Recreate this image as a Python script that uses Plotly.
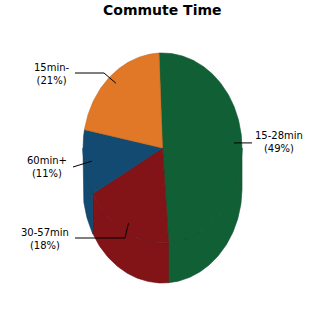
import math
import plotly.graph_objects as go

title = "Commute Time"
categories = ["15-28min", "30-57min", "60min+", "15min-"]
values = [49, 18, 11, 21]
colors = ["#116035", "#821418", "#124a72", "#e07828"]
edge_colors = ["#0d4f2b", "#6a1013", "#0e3c5e", "#c26822"]

# geometry (pixel space)
cx, cy, rx, ry, depth = 162.5, 148.0, 79.5, 95.0, 40.0
start_deg = -2.5
label_xy = [(279, 142), (45, 239), (47, 167), (52, 74)]
elbow_xy = [(252, None), (125, 238), (73, 167), (104, 73)]
line_end_x = [252, 75, 73, 75]


def pt(t, r=1.0, dy=0.0):
    a = math.radians(t)
    return cx + rx * r * math.sin(a), cy - ry * r * math.cos(a) + dy


total = float(sum(values))
angles = []
a = start_deg
for v in values:
    b = a + v / total * 360.0
    angles.append((a, b))
    a = b

fig = go.Figure()

# side walls (front half only)
for (a, b), col, ec in zip(angles, colors, edge_colors):
    for off in (0, 360, -360):
        lo, hi = max(a + off, 90), min(b + off, 270)
        if hi <= lo:
            continue
        n = max(int((hi - lo) / 1.0), 2)
        ts = [lo + (hi - lo) * i / n for i in range(n + 1)]
        top = [pt(t) for t in ts]
        bot = [pt(t, dy=depth) for t in reversed(ts)]
        poly = top + bot + [top[0]]
        fig.add_trace(go.Scatter(x=[p[0] for p in poly], y=[p[1] for p in poly],
                                 mode="lines", fill="toself", fillcolor=col,
                                 line=dict(color=ec, width=0.6), hoverinfo="skip",
                                 showlegend=False))

# top faces
for (a, b), col, ec in zip(angles, colors, edge_colors):
    n = max(int((b - a) / 1.0), 2)
    ts = [a + (b - a) * i / n for i in range(n + 1)]
    poly = [(cx, cy)] + [pt(t) for t in ts] + [(cx, cy)]
    fig.add_trace(go.Scatter(x=[p[0] for p in poly], y=[p[1] for p in poly],
                             mode="lines", fill="toself", fillcolor=col,
                             line=dict(color=ec, width=0.6), hoverinfo="skip",
                             showlegend=False))

# leader lines and labels
for i, ((a, b), cat, v) in enumerate(zip(angles, categories, values)):
    mid = (a + b) / 2
    ax_, ay_ = pt(mid, r=0.9)
    ex, ey = elbow_xy[i]
    if ey is None:
        ey = ay_
    xs = [ax_, ex, line_end_x[i]]
    ys = [ay_, ey, ey]
    fig.add_trace(go.Scatter(x=xs, y=ys, mode="lines",
                             line=dict(color="#000000", width=1),
                             hoverinfo="skip", showlegend=False))
    lx, ly = label_xy[i]
    fig.add_annotation(x=lx, y=ly, xref="x", yref="y",
                       text=f"{cat}<br>({v}%)", showarrow=False,
                       font=dict(family="DejaVu Sans", size=10, color="#000000"),
                       align="center", xanchor="center", yanchor="middle")

fig.add_annotation(x=162.5, y=9.5, xref="x", yref="y", text=f"<b>{title}</b>",
                   showarrow=False, xanchor="center", yanchor="middle",
                   font=dict(family="DejaVu Sans", size=14, color="#000000"))

fig.update_layout(
    width=325, height=325, autosize=False,
    margin=dict(l=0, r=0, t=0, b=0),
    paper_bgcolor="#ffffff", plot_bgcolor="#ffffff",
    xaxis=dict(range=[0, 325], visible=False, fixedrange=True),
    yaxis=dict(range=[325, 0], visible=False, fixedrange=True),
    showlegend=False,
)

fig.write_html("out.html")
